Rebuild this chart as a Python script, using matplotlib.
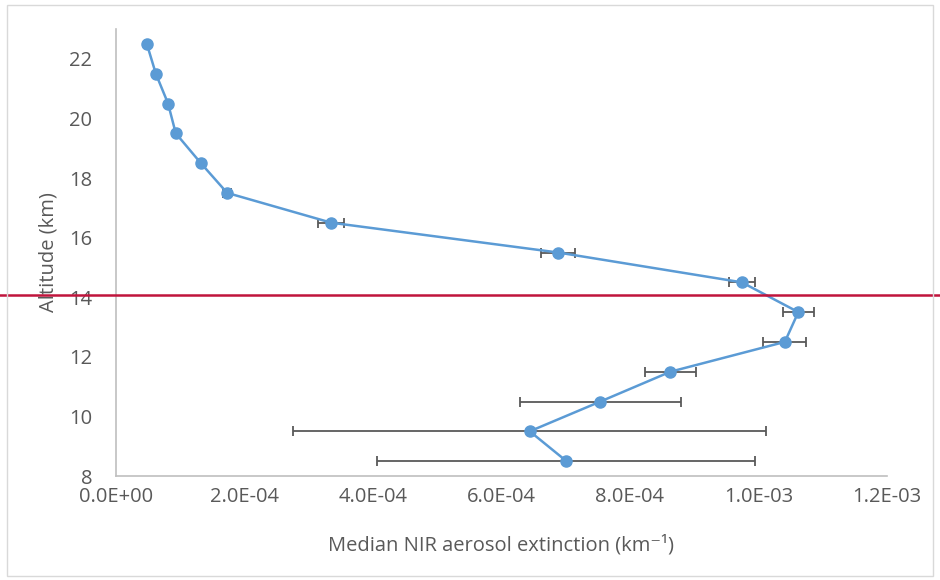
import matplotlib.pyplot as plt
from matplotlib.patches import Rectangle

# altitude bins (km) and median extinction (km-1)
altitude = [22.5, 21.5, 20.5, 19.5, 18.5, 17.5, 16.5, 15.5, 14.5, 13.5, 12.5, 11.5, 10.5, 9.5, 8.5]
extinction = [4.8e-5, 6.2e-5, 8.1e-5, 9.3e-5, 1.32e-4, 1.73e-4, 3.35e-4, 6.88e-4,
              9.74e-4, 1.062e-3, 1.041e-3, 8.63e-4, 7.54e-4, 6.44e-4, 7.01e-4]
ext_err = [2e-6, 2e-6, 3e-6, 3e-6, 4e-6, 6e-6, 2.0e-5, 2.6e-5,
           2.0e-5, 2.4e-5, 3.35e-5, 3.9e-5, 1.25e-4, 3.68e-4, 2.94e-4]
tropopause = 14.07
xticks = [0, 2e-4, 4e-4, 6e-4, 8e-4, 1e-3, 1.2e-3]
xticklabels = ['0.0E+00', '2.0E-04', '4.0E-04', '6.0E-04', '8.0E-04', '1.0E-03', '1.2E-03']
yticks = [8, 10, 12, 14, 16, 18, 20, 22]

plt.rcParams['font.family'] = ['Open Sans', 'DejaVu Sans']
grey = '#595959'

fig = plt.figure(figsize=(9.4, 5.8), dpi=100)
fig.patches.append(Rectangle((0.007, 0.007), 0.986, 0.985, transform=fig.transFigure,
                             fill=False, edgecolor='#D9D9D9', linewidth=1))
ax = fig.add_axes([0.1234, 0.1793, 0.8202, 0.7707])

ax.errorbar(extinction, altitude, xerr=ext_err, fmt='none', ecolor=grey,
            elinewidth=1.3, capsize=3.5, capthick=1.3, zorder=2)
ax.plot(extinction, altitude, color='#5B9BD5', linewidth=1.8, marker='o',
        markersize=8, zorder=3)

ax.axhline(tropopause, xmin=-0.16, xmax=1.08, color='#C0143C', linewidth=1.8,
           clip_on=False, zorder=4)

ax.set_xlim(0, 1.2e-3)
ax.set_ylim(8, 23)
ax.set_xticks(xticks)
ax.set_xticklabels(xticklabels)
ax.set_yticks(yticks)
ax.tick_params(length=0, labelsize=14.5, labelcolor=grey)
ax.tick_params(axis='y', pad=17)
ax.tick_params(axis='x', pad=8)

for s in ['top', 'right']:
    ax.spines[s].set_visible(False)
for s in ['left', 'bottom']:
    ax.spines[s].set_color('#BFBFBF')
    ax.spines[s].set_linewidth(1.2)

ax.set_xlabel('Median NIR aerosol extinction (km\u207b\u00b9)', fontsize=14.5, color=grey, labelpad=20)
ax.set_ylabel('Altitude (km)', fontsize=14.5, color=grey, labelpad=8)

fig.savefig('out.png', dpi=100)
